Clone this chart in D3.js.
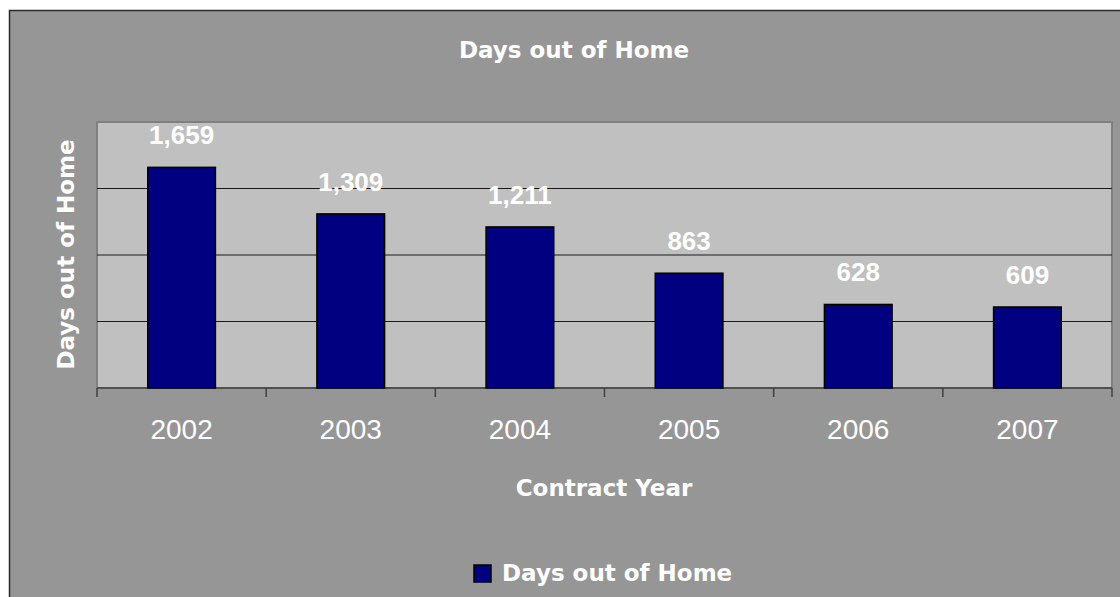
<!DOCTYPE html>
<html>
<head>
<meta charset="utf-8">
<script src="https://cdn.jsdelivr.net/npm/d3@7"></script>
<style>
  body { margin: 0; background: #fff; }
  svg { display: block; }
  .value { font-family: 'Liberation Sans', Arial, sans-serif; font-weight: bold; font-size: 26px; fill: #fff; }
  .tick text { font-family: 'Liberation Sans', Arial, sans-serif; font-size: 28px; fill: #fff; }
  .title, .label, .legend { font-family: 'DejaVu Sans', sans-serif; font-weight: bold; fill: #fff; }
</style>
</head>
<body>
<svg width="1120" height="597"></svg>
<script>
// contract years and days out of home
const years = ['2002', '2003', '2004', '2005', '2006', '2007'];
const days = [1659, 1309, 1211, 863, 628, 609];
const yTicks = [0, 500, 1000, 1500, 2000];

const svg = d3.select('svg');

// outer chart frame
svg.append('rect')
  .attr('x', 9.5)
  .attr('y', 10.5)
  .attr('width', 1120)
  .attr('height', 600)
  .attr('fill', '#969696')
  .attr('stroke', '#2a2a2a')
  .attr('stroke-width', 1.5);

const plot = { left: 97, top: 122, right: 1112, bottom: 388 };
const width = plot.right - plot.left;
const height = plot.bottom - plot.top;

const chart = svg.append('g')
  .attr('transform', `translate(${plot.left}, ${plot.top})`);

const xScale = d3.scaleBand()
  .range([0, width])
  .domain(years)
  .paddingInner(0.6)
  .paddingOuter(0.3);

const yScale = d3.scaleLinear()
  .range([height, 0])
  .domain([0, 2000]);

// plot area
chart.append('rect')
  .attr('width', width)
  .attr('height', height)
  .attr('fill', '#c0c0c0')
  .attr('stroke', '#808080')
  .attr('stroke-width', 2);

chart.append('g')
  .selectAll('line')
  .data(yTicks.slice(1, -1))
  .enter()
  .append('line')
  .attr('x1', 0)
  .attr('x2', width)
  .attr('y1', (d) => yScale(d))
  .attr('y2', (d) => yScale(d))
  .attr('stroke', '#1a1a1a')
  .attr('stroke-width', 1.2);

// x axis: labels at centers, ticks at category boundaries
const xAxis = chart.append('g')
  .attr('transform', `translate(0, ${height})`)
  .call(d3.axisBottom(xScale).tickSize(0).tickPadding(31));
xAxis.select('.domain').remove();

const step = xScale.step();
const gap = step - xScale.bandwidth();
const bounds = years.map((y) => xScale(y) - gap / 2).concat([xScale(years[years.length - 1]) + xScale.bandwidth() + gap / 2]);

chart.append('line')
  .attr('x1', 0)
  .attr('x2', width)
  .attr('y1', height)
  .attr('y2', height)
  .attr('stroke', '#404040')
  .attr('stroke-width', 1.5);

chart.append('g')
  .selectAll('line')
  .data(bounds)
  .enter()
  .append('line')
  .attr('x1', (d) => d)
  .attr('x2', (d) => d)
  .attr('y1', height)
  .attr('y2', height + 9)
  .attr('stroke', '#404040')
  .attr('stroke-width', 1.5);

const bars = chart.selectAll('.bar-g')
  .data(years.map((y, i) => ({ year: y, value: days[i] })))
  .enter()
  .append('g');

bars.append('rect')
  .attr('x', (d) => xScale(d.year))
  .attr('y', (d) => yScale(d.value))
  .attr('width', xScale.bandwidth())
  .attr('height', (d) => height - yScale(d.value))
  .attr('fill', '#000080')
  .attr('stroke', '#000')
  .attr('stroke-width', 1.5);

bars.append('text')
  .attr('class', 'value')
  .attr('x', (d) => xScale(d.year) + xScale.bandwidth() / 2)
  .attr('y', (d) => yScale(d.value) - 23)
  .attr('text-anchor', 'middle')
  .text((d) => d3.format(',')(d.value));

svg.append('text')
  .attr('class', 'title')
  .attr('x', 574)
  .attr('y', 58)
  .attr('text-anchor', 'middle')
  .style('font-size', '23px')
  .text('Days out of Home');

svg.append('text')
  .attr('class', 'label')
  .attr('x', 604)
  .attr('y', 496)
  .attr('text-anchor', 'middle')
  .style('font-size', '23px')
  .text('Contract Year');

svg.append('text')
  .attr('class', 'label')
  .attr('transform', `translate(74, ${(136 + 373) / 2}) rotate(-90)`)
  .attr('text-anchor', 'middle')
  .style('font-size', '23px')
  .text('Days out of Home');

// legend
const legend = svg.append('g').attr('transform', 'translate(474, 565)');
legend.append('rect')
  .attr('width', 17)
  .attr('height', 17)
  .attr('fill', '#000080')
  .attr('stroke', '#000')
  .attr('stroke-width', 1.5);
legend.append('text')
  .attr('class', 'legend')
  .attr('x', 28)
  .attr('y', 16)
  .style('font-size', '23px')
  .text('Days out of Home');
</script>
</body>
</html>
